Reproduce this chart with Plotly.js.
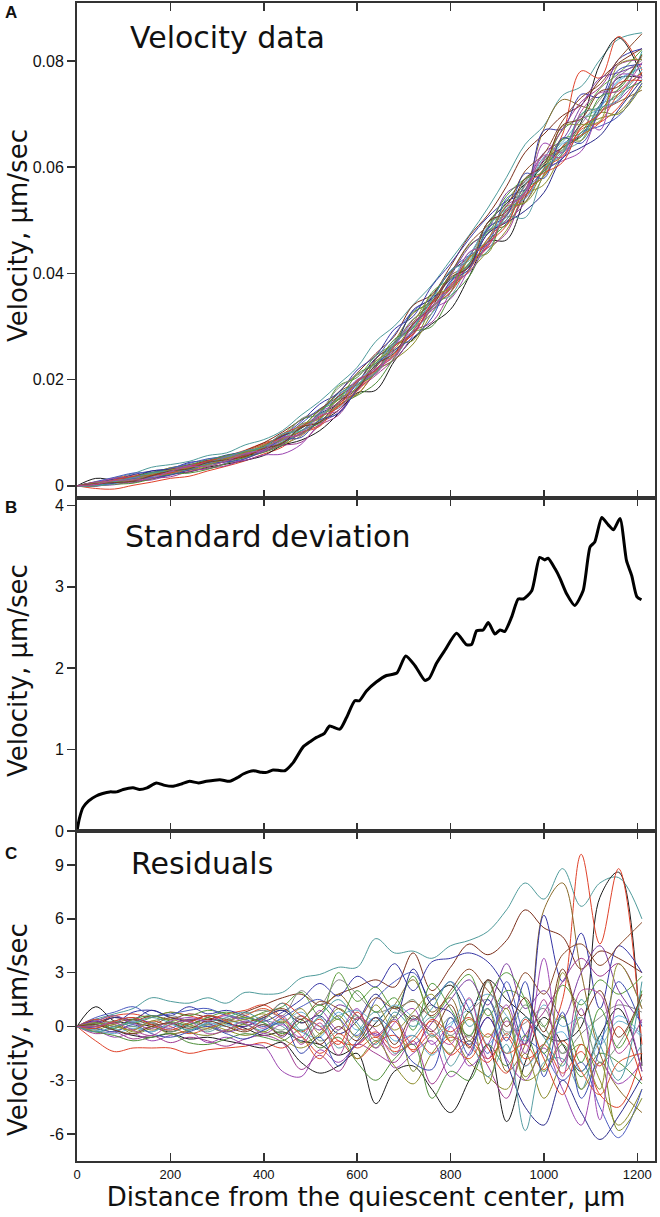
<!DOCTYPE html>
<html>
<head>
<meta charset="utf-8">
<script src="https://cdn.plot.ly/plotly-3.0.1.min.js"></script>
<style>
  html, body { margin: 0; padding: 0; background: #fff; }
  #chart { width: 660px; height: 1217px; }
</style>
</head>
<body>
<div id="chart"></div>
<script>
// sample positions along the root, µm
const distance = [0, 40, 80, 120, 160, 200, 240, 280, 320, 360, 400, 440, 480, 520, 560, 600,
  640, 680, 720, 760, 800, 840, 880, 920, 960, 1000, 1040, 1080, 1120, 1160, 1210];

// mean velocity profile
const meanVelocity = [0, 0.0003, 0.0008, 0.0013, 0.0019, 0.0026, 0.0033, 0.0041, 0.0049, 0.0058,
  0.0069, 0.0085, 0.0106, 0.0130, 0.0158, 0.0190, 0.0223, 0.0260, 0.0299, 0.0340, 0.0380,
  0.0424, 0.0470, 0.0516, 0.0563, 0.0607, 0.0647, 0.0685, 0.0722, 0.0758, 0.0793];

// residual traces
const res01 = [0,0.4,0.7,1.0,1.6,1.4,1.3,1.6,1.3,1.9,1.8,1.9,2.7,2.9,3.3,3.3,4.9,4.1,4.2,3.8,4.5,4.8,5.3,6.5,8.0,7.1,8.8,6.7,8.0,8.3,6.0];
const res02 = [0,-0.8,-1.4,-1.2,-1.2,-1.2,-1.5,-1.3,-1.2,-1.1,-0.9,-1.2,-0.6,-1.5,-0.8,-1.8,-0.9,-0.5,-1.3,-0.4,-1.6,-0.8,-1.8,-0.6,-2.2,-1.0,-2.6,-1.4,-3.8,-4.5,-1.5];
const res03 = [0,1.1,0.3,0.2,0.0,-0.3,0.1,0.4,0.2,-0.1,-0.5,-0.3,-0.8,-1.0,-1.6,-1.0,0.2,1.1,0.4,1.5,2.3,0.8,2.6,1.5,0.6,-0.5,-0.8,0.0,7.2,8.6,-2.2];
const res04 = [0,0.3,-0.2,-0.5,-0.6,-0.4,-0.7,-0.6,-0.8,-1.0,-1.2,-0.9,-2.0,-2.6,-2.2,-1.5,-4.3,-2.5,-2.2,-3.5,-4.8,-3.0,-1.0,-5.3,-2.0,0.5,-1.0,-2.5,-0.5,1.0,-2.5];
const res05 = [0,0.2,0.6,0.7,0.5,0.8,0.6,0.4,0.7,0.9,1.2,0.5,-0.3,0.4,-0.8,-1.0,-0.3,-1.2,-0.5,-1.5,-0.6,-1.1,-2.0,-0.4,-1.8,-1.0,1.5,9.6,4.6,8.8,-1.0];
const res06 = [0,0.1,0.5,0.3,0.6,0.4,0.7,0.5,0.3,0.8,1.2,1.6,1.8,1.2,1.8,2.2,2.6,2.2,4.1,2.0,3.3,4.6,4.0,4.8,6.5,5.5,5.0,3.2,4.2,3.8,3.0];
const res07 = [0,-0.3,-0.1,0.2,-0.2,0.1,0.4,0.0,-0.3,0.2,0.5,0.9,0.2,0.8,1.8,0.6,0.0,1.2,2.6,0.8,1.6,-0.8,1.0,-2.5,-1.0,6.5,8.0,3.0,-1.5,-3.5,-4.8];
const res08 = [0,0.4,0.2,0.8,0.9,0.6,1.1,0.7,0.9,0.6,0.3,0.8,1.5,2.4,1.7,2.8,2.2,3.5,2.0,3.6,3.8,4.1,3.6,2.0,-1.0,6.2,2.5,5.2,1.0,4.5,3.0];
const res09 = [0,-0.2,-0.6,-0.4,-0.8,-0.5,-0.3,-0.9,-0.6,-1.0,-1.1,-2.5,-2.8,-1.3,-2.0,-1.0,-0.4,-2.3,-1.5,-0.8,-2.8,-1.5,0.5,-1.8,-3.0,-1.2,-3.5,-5.5,-2.0,-3.2,-2.0];
const res10 = [0,0.3,0.6,0.2,0.5,0.8,0.6,0.9,0.7,0.4,0.8,1.1,1.9,0.6,3.0,1.4,2.2,1.0,2.8,0.5,1.8,2.9,0.6,2.0,1.5,0.0,2.3,1.2,2.6,1.8,2.8];
const res11 = [0,-0.1,0.2,-0.3,0.0,-0.4,-0.2,0.1,-0.2,-0.5,-0.3,-0.7,-1.2,-0.5,0.4,-1.8,-0.8,-2.2,-3.2,-1.5,-0.5,-2.0,-2.8,-3.5,-1.5,-4.0,-2.0,-1.0,-3.0,-5.5,-3.5];
const res12 = [0,0.2,-0.1,0.3,0.1,-0.2,0.2,0.0,0.3,0.1,-0.2,0.4,-0.3,-0.6,0.8,-0.2,0.5,-0.8,-0.5,-1.6,0.0,1.5,-1.0,0.5,-2.2,-1.0,-0.3,-2.5,-0.8,0.6,-0.5];
const res13 = [0,0.0,0.3,0.5,0.2,0.6,0.3,0.1,0.4,0.7,0.9,0.6,2.0,1.2,2.6,1.8,0.8,1.0,0.3,1.2,-0.5,0.8,1.5,-0.3,0.2,1.0,-1.5,-0.4,0.5,1.2,0.8];
const res14 = [0,-0.4,-0.3,-0.7,-0.5,-0.9,-0.6,-0.8,-1.1,-0.7,-0.5,-0.9,-2.4,-1.6,-2.5,-1.0,-1.5,-2.0,-0.8,-3.2,-1.6,-0.5,-2.2,-4.0,-0.5,0.8,2.5,3.8,2.8,3.5,1.0];
const res15 = [0,0.5,0.8,1.1,0.6,0.7,0.9,1.0,0.6,0.4,0.0,0.5,1.1,1.5,0.5,-0.5,1.5,2.5,3.0,1.5,2.5,1.0,-1.5,2.5,-0.5,-1.5,-3.0,-2.0,-4.5,-6.2,-3.5];
const res16 = [0,-0.3,-0.5,-0.8,-0.6,-0.4,-0.9,-1.0,-0.7,-0.4,-0.6,-0.8,-0.2,-1.2,-0.6,-2.0,-3.0,-1.8,-1.0,-4.0,-2.5,-3.0,-1.0,-2.2,-0.5,-2.5,-1.0,-2.8,-1.5,-2.0,-3.2];
const res17 = [0,0.2,0.5,0.4,0.9,0.5,0.3,0.6,0.2,0.0,0.5,0.9,0.2,0.6,-0.4,0.3,1.8,0.5,3.2,1.2,0.8,-1.0,0.5,-2.0,-4.5,-5.5,-3.0,-4.8,-6.3,-5.0,-2.8];
const res18 = [0,0.1,-0.2,0.0,-0.3,0.2,0.0,-0.3,0.1,-0.2,0.3,0.0,-0.8,0.5,-1.2,-0.3,0.8,-1.5,-0.6,0.5,-2.2,-0.8,-2.8,-1.0,-5.8,-2.0,-1.8,-3.5,-0.5,-2.5,-1.0];
const res19 = [0,0.4,0.1,-0.2,0.3,0.0,-0.4,-0.1,0.3,0.6,1.0,0.4,-0.5,-1.8,-0.4,-1.2,-0.6,-1.4,-0.8,0.3,-0.9,-1.8,-0.4,-1.5,-1.0,-2.4,-0.8,-2.5,-3.8,-2.0,-1.5];
const res20 = [0,0.3,0.0,0.4,0.2,-0.1,0.4,0.2,-0.3,0.0,0.4,-0.6,0.6,-0.2,1.2,0.6,-0.5,0.4,-1.0,0.2,1.5,2.6,1.2,3.5,1.0,2.0,0.5,3.0,4.5,2.0,0.2];
const res21 = [0,-0.2,0.1,-0.4,-0.1,0.2,-0.3,-0.5,-0.2,0.1,-0.3,0.3,-0.9,-0.4,1.0,0.0,-1.2,0.6,-2.5,-0.5,-1.5,0.8,-3.2,0.5,-2.8,-1.0,0.6,-3.5,-2.0,-5.8,-4.0];
const res22 = [0,0.0,0.2,0.4,0.1,0.5,0.3,0.6,0.4,0.2,0.6,1.0,0.4,1.4,1.0,0.4,1.6,1.0,1.4,0.6,2.0,3.2,2.0,1.0,3.0,1.8,4.0,4.6,3.4,4.5,5.8];
const res23 = [0,-0.2,-0.4,-0.1,-0.3,0.1,-0.2,0.2,0.0,0.3,0.1,0.2,0.8,0.0,0.6,0.9,0.3,1.2,0.5,-0.5,0.2,1.0,1.8,0.6,-0.8,1.2,0.0,0.5,-1.0,0.3,-0.6];
const res24 = [0,0.1,0.3,0.0,0.2,-0.3,0.0,-0.2,0.3,0.5,0.2,-0.2,0.6,-0.8,-0.2,0.6,-0.8,0.5,1.5,-0.6,0.5,-0.6,2.5,-0.5,1.2,0.0,-1.5,0.5,-2.0,-1.0,1.5];
const res25 = [0,0.2,-0.1,0.4,0.6,0.3,0.1,0.5,0.8,0.5,0.2,-0.4,0.3,1.2,0.4,2.0,0.8,1.6,-0.2,2.4,1.0,-0.5,1.6,3.0,1.5,-1.5,0.5,-2.0,1.0,-1.2,2.0];
const res26 = [0,-0.1,-0.3,0.1,-0.4,-0.6,-0.3,0.0,-0.4,-0.7,-0.2,0.2,-1.5,-0.6,-2.2,-0.8,0.5,-0.4,-2.0,-2.4,0.5,-1.6,1.5,-0.8,2.5,-2.8,0.8,-4.0,-1.2,2.5,0.0];
const res27 = [0,0.3,0.6,0.2,-0.1,0.3,0.5,0.3,0.6,0.2,-0.4,0.1,-0.6,0.9,-0.2,1.0,-1.2,0.2,1.0,-1.0,0.0,-2.2,-1.0,1.2,-1.5,3.8,-2.0,1.0,-5.2,1.5,-2.5];
const res28 = [0,-0.1,0.3,0.5,0.1,-0.2,0.2,0.6,0.3,-0.2,0.4,1.3,0.6,0.0,-1.0,0.8,-0.6,0.3,-1.4,0.4,-0.3,0.5,-1.2,-2.6,0.4,-1.8,-3.8,-1.0,-2.2,0.0,-3.0];
const res29 = [0,0.2,0.0,-0.2,0.3,0.4,0.1,-0.1,0.2,0.4,0.7,0.2,1.0,-0.4,0.6,-0.6,1.2,-0.2,0.8,1.8,-0.8,0.4,-0.6,1.0,-3.0,-2.2,3.0,-0.5,-3.5,3.5,1.0];
const res30 = [0,-0.3,0.0,0.2,0.5,0.2,-0.2,0.2,0.5,0.8,0.4,1.3,-0.2,0.6,1.5,0.2,-1.0,0.8,0.0,1.0,2.5,0.0,1.0,-1.5,0.5,-0.6,-2.2,1.5,-1.0,-3.0,2.5];
const res31 = [0,0.1,-0.2,-0.4,0.0,0.2,-0.1,0.3,0.0,-0.3,0.1,-0.5,0.4,-1.0,0.0,-0.8,0.5,-1.0,0.6,-0.3,1.2,-1.2,2.6,0.0,1.6,-0.3,3.2,0.6,2.0,-0.6,1.8];
const res32 = [0,0.0,0.2,-0.2,-0.5,0.1,0.3,-0.4,-0.2,0.3,-0.1,0.6,-1.0,0.2,-1.6,0.5,-0.2,-1.6,0.4,-0.2,-1.0,1.6,-1.8,0.3,-1.0,1.5,-2.8,2.0,1.8,-1.5,0.4];

const residuals = [res01, res02, res03, res04, res05, res06, res07, res08, res09, res10, res11, res12,
  res13, res14, res15, res16, res17, res18, res19, res20, res21, res22, res23, res24,
  res25, res26, res27, res28, res29, res30, res31, res32];

// standard deviation curve
const sdDistance = [0, 5, 13, 25, 41, 55, 70, 85, 99, 120, 134, 150, 170, 188, 206, 225, 241, 260, 277,
  306, 327, 345, 356, 378, 395, 406, 420, 445, 463, 484, 500, 513, 530, 541, 563, 577, 595, 605, 620,
  641, 663, 685, 704, 724, 745, 755, 770, 788, 813, 834, 845, 856, 870, 881, 895, 906, 916, 931, 945,
  956, 974, 991, 1002, 1009, 1024, 1034, 1049, 1066, 1084, 1099, 1109, 1124, 1138, 1149, 1163, 1177,
  1188, 1199, 1209];
const sdVelocity = [0, 0.15, 0.29, 0.37, 0.43, 0.46, 0.48, 0.48, 0.51, 0.53, 0.51, 0.53, 0.59, 0.56,
  0.55, 0.58, 0.61, 0.59, 0.61, 0.63, 0.61, 0.66, 0.70, 0.74, 0.72, 0.72, 0.75, 0.74, 0.84, 1.03, 1.10,
  1.15, 1.20, 1.29, 1.25, 1.39, 1.60, 1.60, 1.72, 1.83, 1.91, 1.94, 2.15, 2.03, 1.85, 1.88, 2.06, 2.22,
  2.43, 2.29, 2.29, 2.46, 2.47, 2.56, 2.42, 2.47, 2.45, 2.63, 2.85, 2.85, 2.95, 3.36, 3.33, 3.35, 3.22,
  3.11, 2.91, 2.77, 2.95, 3.49, 3.55, 3.85, 3.76, 3.70, 3.84, 3.32, 3.14, 2.88, 2.84];

const xTicks = [0, 200, 400, 600, 800, 1000, 1200];
const residTicks = [-6, -3, 0, 3, 6, 9];
const residTickText = ["-6", "-3", "0", "3", "6", "9"];

const lineColors = ["#4f9b9b", "#e0432b", "#1a1a1a", "#1a1a1a", "#e0432b", "#7a2e1a", "#8a6a2a",
  "#3535a5", "#9b45b0", "#5a9b3a", "#8c8c2a", "#5fb3dc", "#8a8a8a", "#a03a90", "#4a5ac0", "#4f8f3a",
  "#2a2a8a", "#5a9fa5", "#d9542b", "#7a3aa0", "#7a8a2a", "#8b4a2a", "#6ab0d0", "#7a9a7a",
  "#4f9a3a", "#3a4ab0", "#a04ab5", "#d8402a", "#8f8f30", "#4a9aa0", "#7a3a20", "#b04a9a"];

// panel C residuals are panel A deviations from the mean, x1000
const traces = [];
residuals.forEach((r, i) => {
  traces.push({
    x: distance,
    y: meanVelocity.map((m, k) => m + r[k] / 1000),
    xaxis: "x", yaxis: "y",
    mode: "lines",
    line: { color: lineColors[i], width: 1, shape: "spline", smoothing: 1 },
    hoverinfo: "skip",
  });
});
traces.push({
  x: sdDistance,
  y: sdVelocity,
  xaxis: "x2", yaxis: "y2",
  mode: "lines",
  line: { color: "#000", width: 3, shape: "spline", smoothing: 0.6 },
});
residuals.forEach((r, i) => {
  traces.push({
    x: distance,
    y: r,
    xaxis: "x3", yaxis: "y3",
    mode: "lines",
    line: { color: lineColors[i], width: 1, shape: "spline", smoothing: 1 },
    hoverinfo: "skip",
  });
});

const tickFont = { family: "Liberation Sans Narrow, Arial Narrow, Liberation Sans, sans-serif", size: 16, color: "#111" };
const bigFamily = "DejaVu Sans, Verdana, sans-serif";
const axisLine = "#333";

function xAx(anchor, labels) {
  return {
    anchor: anchor, domain: [0, 1], range: [0, 1238],
    tickvals: xTicks, ticks: "inside", ticklen: 8, tickwidth: 1.5, tickcolor: axisLine,
    mirror: "ticks", showline: true, linecolor: axisLine, linewidth: 2,
    showgrid: false, zeroline: false, automargin: false,
    showticklabels: labels,
    tickfont: { family: tickFont.family, size: 13, color: "#111" },
  };
}
function yAx(anchor, domain, range, extra) {
  return Object.assign({
    anchor: anchor, domain: domain, range: range,
    ticks: "outside", ticklen: 8, tickwidth: 1.5, tickcolor: axisLine,
    mirror: true, showline: true, linecolor: axisLine, linewidth: 2,
    showgrid: false, zeroline: false, automargin: false, tickfont: tickFont,
  }, extra);
}
function rightTicks(over, anchor, range, extra) {
  return Object.assign({
    overlaying: over, side: "right", anchor: anchor, range: range,
    ticks: "inside", ticklen: 8, tickwidth: 1.5, tickcolor: axisLine,
    showticklabels: false, showline: false, showgrid: false, zeroline: false,
  }, extra);
}

const rangeA = [-0.0023, 0.0909];
const rangeB = [0, 4.09];
const rangeC = [-7.5, 10.9];

const layout = {
  width: 660, height: 1217,
  margin: { l: 77, r: 5, t: 3, b: 56 },
  paper_bgcolor: "#fff", plot_bgcolor: "#fff",
  showlegend: false,
  xaxis: xAx("y", false),
  xaxis2: xAx("y2", false),
  xaxis3: Object.assign(xAx("y3", true), {
    title: { text: "Distance from the quiescent center, µm", font: { family: bigFamily, size: 26, color: "#111" }, standoff: 6 },
  }),
  yaxis: yAx("x", [0.5725, 1], rangeA, { dtick: 0.02, tick0: 0 }),
  yaxis2: yAx("x2", [0.285, 0.5725], rangeB, { dtick: 1, tick0: 0 }),
  yaxis3: yAx("x3", [0, 0.285], rangeC, { tickvals: residTicks, ticktext: residTickText }),
  yaxis4: rightTicks("y", "x", rangeA, { dtick: 0.02, tick0: 0 }),
  yaxis5: rightTicks("y2", "x2", rangeB, { dtick: 1, tick0: 0 }),
  yaxis6: rightTicks("y3", "x3", rangeC, { tickvals: residTicks }),
  annotations: [
    { text: "Velocity data", x: 0.088, y: 0.9706 },
    { text: "Standard deviation", x: 0.0796, y: 0.5397 },
    { text: "Residuals", x: 0.090, y: 0.2565 },
  ].map((a) => Object.assign({ xref: "paper", yref: "paper", xanchor: "left", yanchor: "middle", showarrow: false,
    font: { family: bigFamily, size: 30, color: "#111" } }, a))
    .concat([0.7988, 0.4231, 0.1131].map((yy) => ({
      text: "Velocity, µm/sec", xref: "paper", yref: "paper", x: -0.102, y: yy,
      xanchor: "center", yanchor: "middle", textangle: -90, showarrow: false,
      font: { family: bigFamily, size: 26, color: "#111" },
    })))
    .concat([["A", 0.9918], ["B", 0.5643], ["C", 0.2655]].map(([t, yy]) => ({
      text: "<b>" + t + "</b>", xref: "paper", yref: "paper", x: -0.114, y: yy,
      xanchor: "center", yanchor: "middle", showarrow: false,
      font: { family: "Liberation Sans, Arial, sans-serif", size: 17, color: "#111" },
    }))),
};

Plotly.newPlot("chart", traces, layout, { displayModeBar: false, staticPlot: true });
</script>
</body>
</html>
